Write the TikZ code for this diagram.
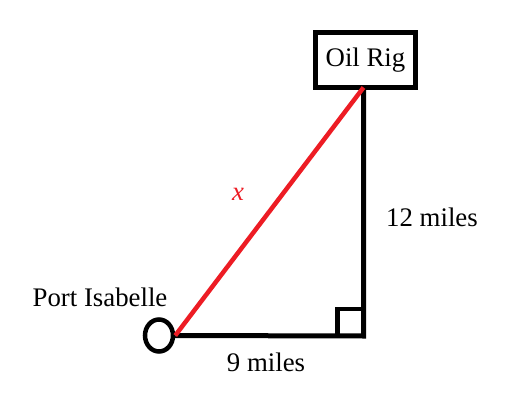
\documentclass[tikz,border=0pt]{standalone}
\usepackage{fontspec}
\setmainfont{Liberation Serif}
\usetikzlibrary{shapes.geometric}
\definecolor{paintred}{RGB}{237,28,36}
\begin{document}
\begin{tikzpicture}[x=1pt,y=-1pt,
  lbl/.style={inner sep=0pt,font=\fontsize{26.8}{30}\selectfont},
  thick line/.style={line width=5pt,black},
  boxnode/.style={draw,line width=5pt,rectangle,minimum width=100pt,minimum height=55pt,inner sep=0pt,font=\fontsize{26.8}{30}\selectfont},
  portnode/.style={draw,line width=4.5pt,ellipse,minimum width=28pt,minimum height=32pt,inner sep=0pt}]
\useasboundingbox (0,0) rectangle (506,404);
\fill[white] (0,0) rectangle (506,404);
\node[boxnode] (rig) at (365.5,60) {Oil Rig};
\node[portnode] (port) at (159,335.5) {};
\coordinate (corner) at (363.5,336);
\coordinate (top) at (363.5,87.5);
\draw[thick line] (top) -- (corner) -- (port.east);
\draw[line width=4.5pt] (corner) ++(-26,0) |- ++(26,-27);
\draw[line width=4.5pt,paintred] (port.east) -- (top);
\node[lbl] (lx) at (238,194) {\textcolor{paintred}{\textit{x}}};
\node[lbl] (l12) at (432,217) {12 miles};
\node[lbl] (l9) at (266,362) {9 miles};
\node[lbl] (lport) at (100,297) {Port Isabelle};
\end{tikzpicture}
\end{document}
